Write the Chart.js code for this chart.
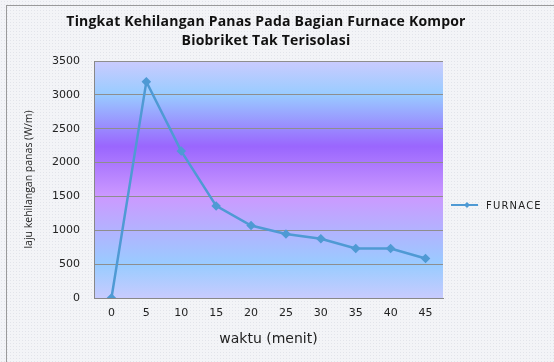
<!DOCTYPE html>
<html>
<head>
<meta charset="utf-8">
<script src="https://cdn.jsdelivr.net/npm/chart.js@4.4.1/dist/chart.umd.min.js"></script>
<style>
  html, body { margin: 0; padding: 0; }
  body {
    width: 554px; height: 362px; overflow: hidden;
    background-color: #f3f4f7;
    background-image: radial-gradient(#e2e4ea 0.8px, transparent 0.9px);
    background-size: 3px 3px;
  }
  #frame {
    position: absolute; left: 6px; top: 5px; width: 560px; height: 370px;
    border-left: 1px solid #9a9a9a; border-top: 1px solid #9a9a9a;
  }
  #wrap { position: absolute; left: 0; top: 0; width: 554px; height: 362px; }
</style>
</head>
<body>
<div id="frame"></div>
<div id="wrap"><canvas id="grafik" width="554" height="362"></canvas></div>
<script>
// data waktu vs laju kehilangan panas
const waktu = ['0', '5', '10', '15', '20', '25', '30', '35', '40', '45'];
const furnace = [0, 3195, 2170, 1360, 1070, 944, 875, 732, 732, 584];
const yTicks = [0, 500, 1000, 1500, 2000, 2500, 3000, 3500];
const judul = ['Tingkat Kehilangan Panas Pada Bagian Furnace Kompor', 'Biobriket Tak Terisolasi'];

const warnaGaris = '#4f9ad4';
const fontJudul = '"Open Sans", Lato, sans-serif';
const fontAngka = '"DejaVu Sans", Verdana, sans-serif';

// latar gradasi area plot (gaya excel)
const latarPlot = {
    id: 'latarPlot',
    beforeDraw(chart) {
        const { ctx, chartArea: a } = chart;
        const g = ctx.createLinearGradient(0, a.top, 0, a.bottom);
        g.addColorStop(0.00, '#cbcbfe');
        g.addColorStop(0.14, '#99ccff');
        g.addColorStop(0.36, '#9a66fe');
        g.addColorStop(0.57, '#cc99ff');
        g.addColorStop(0.86, '#99ccff');
        g.addColorStop(1.00, '#c8cbfe');
        ctx.save();
        ctx.fillStyle = g;
        ctx.fillRect(a.left, a.top, a.right - a.left, a.bottom - a.top);
        ctx.restore();
    }
};

// judul dua baris + legenda manual di kanan
const judulDanLegenda = {
    id: 'judulDanLegenda',
    afterDraw(chart) {
        const { ctx } = chart;
        ctx.save();
        ctx.fillStyle = '#111';
        ctx.font = 'bold 14px ' + fontJudul;
        ctx.letterSpacing = '0.2px';
        ctx.textAlign = 'center';
        ctx.textBaseline = 'middle';
        ctx.fillText(judul[0], 266, 22);
        ctx.fillText(judul[1], 266, 41);

        const ds = chart.data.datasets[0];
        const y = 205;
        ctx.strokeStyle = ds.borderColor;
        ctx.lineWidth = 2;
        ctx.beginPath();
        ctx.moveTo(451, y); ctx.lineTo(478, y);
        ctx.stroke();
        ctx.fillStyle = ds.borderColor;
        ctx.beginPath();
        ctx.moveTo(467, y - 3); ctx.lineTo(470, y); ctx.lineTo(467, y + 3); ctx.lineTo(464, y);
        ctx.closePath(); ctx.fill();
        ctx.fillStyle = '#222';
        ctx.font = '10px ' + fontAngka;
        ctx.letterSpacing = '1.2px';
        ctx.textAlign = 'left';
        ctx.fillText(ds.label, 486, y + 1);
        ctx.restore();
    }
};

const ctx = document.getElementById('grafik').getContext('2d');
new Chart(ctx, {
    type: 'line',
    data: {
        labels: waktu,
        datasets: [{
            label: 'FURNACE',
            data: furnace,
            borderColor: warnaGaris,
            backgroundColor: warnaGaris,
            borderWidth: 2.5,
            pointStyle: 'rectRot',
            pointRadius: 3,
            tension: 0
        }]
    },
    options: {
        responsive: false,
        animation: false,
        devicePixelRatio: 1,
        layout: { padding: { left: 0, right: 111, top: 61, bottom: 0 } },
        plugins: {
            legend: { display: false },
            tooltip: { enabled: false },
            title: { display: false }
        },
        scales: {
            x: {
                offset: true,
                afterFit(axis) { axis.height = 64; },
                grid: { display: false, drawTicks: false },
                border: { color: '#888', width: 1 },
                ticks: { color: '#222', font: { family: fontAngka, size: 11 }, padding: 9,
                         autoSkip: false, maxRotation: 0 },
                title: { display: true, text: 'waktu (menit)', color: '#222',
                         font: { family: fontAngka, size: 14 }, padding: { top: 4, bottom: 14 } }
            },
            y: {
                min: 0, max: 3500,
                afterFit(axis) { axis.width = 94; },
                afterBuildTicks(axis) { axis.ticks = yTicks.map(v => ({ value: v })); },
                grid: { color: '#8e8e8e', lineWidth: 1, drawTicks: false },
                border: { color: '#888', width: 1 },
                ticks: { color: '#222', font: { family: fontAngka, size: 11 }, padding: 14,
                         callback: v => String(v) },
                title: { display: true, text: 'laju kehilangan panas (W/m)', color: '#222',
                         font: { family: fontJudul, size: 10.5 }, padding: { top: 23, bottom: 0 } }
            }
        }
    },
    plugins: [latarPlot, judulDanLegenda]
});
</script>
</body>
</html>
